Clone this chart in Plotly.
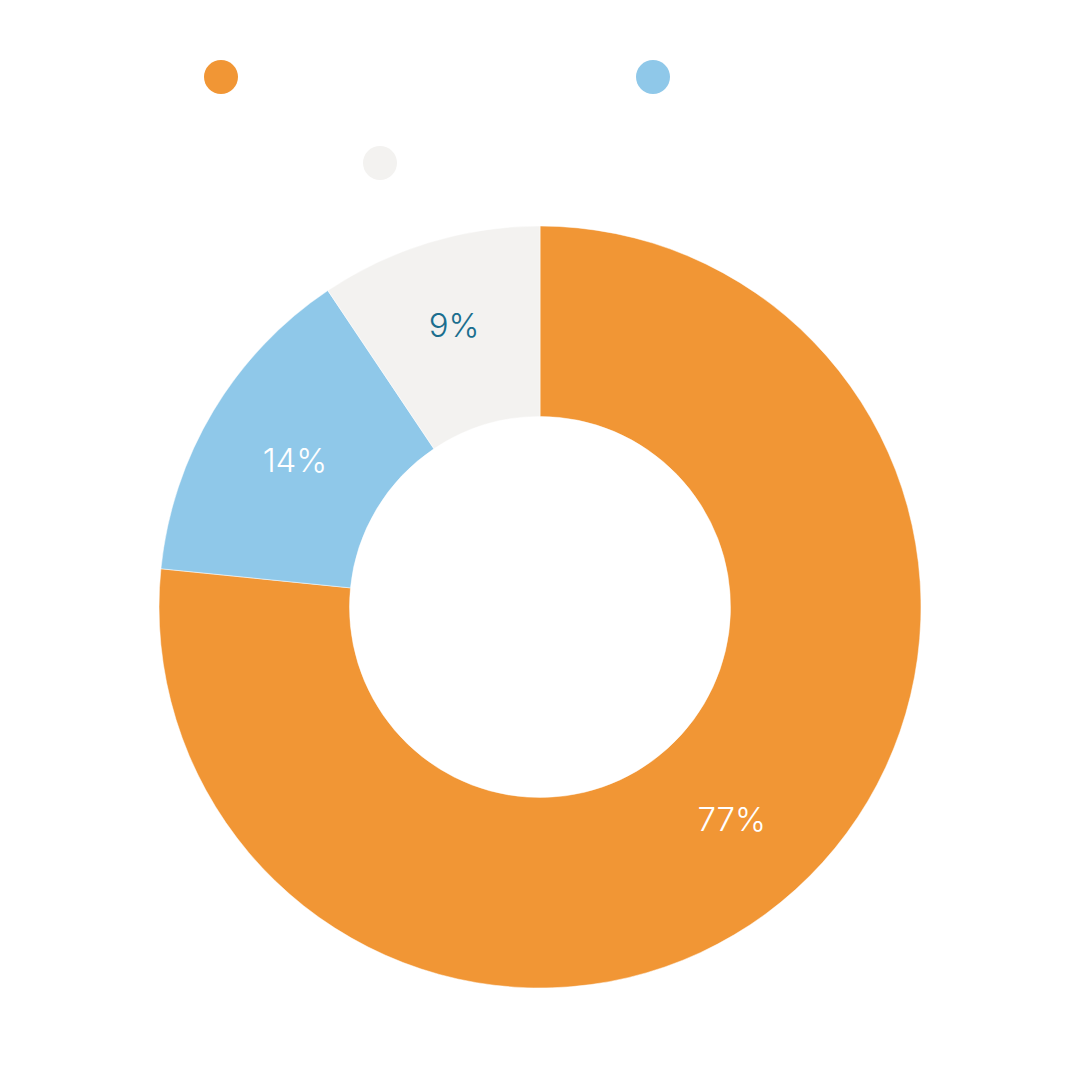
import plotly.graph_objects as go

categories = ["Category A", "Category B", "Category C"]
values = [76.6, 14.0, 9.4]
colors = ["#F19635", "#8FC8E9", "#F3F2F0"]
text_colors = ["#FFFFFF", "#FFFFFF", "#1A6E8E"]

# page body adds an 8px offset; coordinates below are in figure pixels
OFF = 8
W = H = 1080

fig = go.Figure()
fig.add_trace(go.Pie(
    labels=categories,
    values=values,
    hole=0.5,
    sort=False,
    direction="clockwise",
    rotation=0,
    marker=dict(colors=colors, line=dict(color="#FFFFFF", width=0.5)),
    texttemplate="%{percent:.0%}",
    textposition="inside",
    insidetextorientation="horizontal",
    textfont=dict(family="Inter", size=33, color=text_colors, weight=300),
    showlegend=False,
    hoverinfo="label+percent",
    domain=dict(x=[(159 - OFF) / W, (921 - OFF) / W],
                y=[1 - (988 - OFF) / H, 1 - (226 - OFF) / H]),
))

# legend dots (no labels in the reference)
legend_pos = [(221, 77), (653, 77), (380, 163)]
r = 17
shapes = []
for (cx, cy), c in zip(legend_pos, colors):
    cx -= OFF
    cy -= OFF
    shapes.append(dict(
        type="circle", xref="paper", yref="paper",
        x0=(cx - r) / W, x1=(cx + r) / W,
        y0=1 - (cy + r) / H, y1=1 - (cy - r) / H,
        fillcolor=c, line=dict(width=0),
    ))

fig.update_layout(
    width=W, height=H,
    margin=dict(l=0, r=0, t=0, b=0),
    paper_bgcolor="#FFFFFF",
    plot_bgcolor="#FFFFFF",
    shapes=shapes,
    uniformtext=dict(minsize=10, mode="show"),
)

fig.write_html("out.html")
